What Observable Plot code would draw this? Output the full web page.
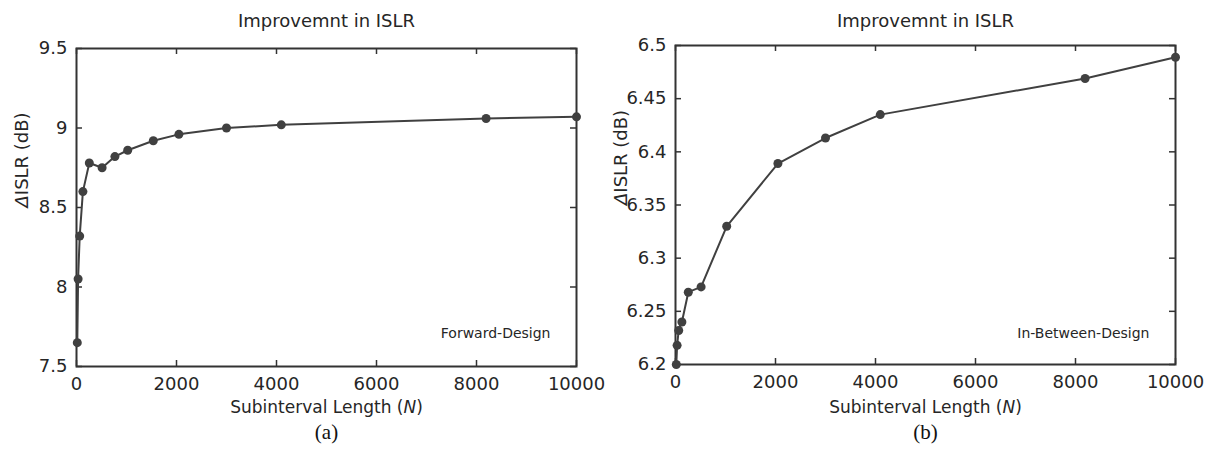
<!DOCTYPE html>
<html>
<head>
<meta charset="utf-8">
<script src="https://cdn.jsdelivr.net/npm/d3@7"></script>
<script src="https://cdn.jsdelivr.net/npm/@observablehq/plot@0.6"></script>
<style>
  html, body { margin: 0; padding: 0; background: #fff; }
  #wrap { position: relative; width: 1211px; height: 459px; overflow: hidden; background: #fff; }
  #wrap > div { position: absolute; top: 0; }
  #pa { z-index: 2; }
  #pb { z-index: 1; }
</style>
</head>
<body>
<div id="wrap"><div id="pa" style="left:0"></div><div id="pb" style="left:600px"></div></div>
<script>
// ---- data ----
const titleText = "Improvemnt in ISLR";
const xLabel = "Subinterval Length (N)";
const yLabel = "ΔISLR (dB)";
const xTicks = [0, 2000, 4000, 6000, 8000, 10000];

// (a) Forward-Design
const forwardN = [16, 32, 64, 128, 256, 512, 768, 1024, 1536, 2048, 3000, 4096, 8192, 10000];
const forwardISLR = [7.65, 8.05, 8.32, 8.60, 8.78, 8.75, 8.82, 8.86, 8.92, 8.96, 9.00, 9.02, 9.06, 9.07];
const forwardYTicks = [7.5, 8, 8.5, 9, 9.5];

// (b) In-Between-Design
const betweenN = [16, 32, 64, 128, 256, 512, 1024, 2048, 3000, 4096, 8192, 10000];
const betweenISLR = [6.200, 6.218, 6.232, 6.240, 6.268, 6.273, 6.330, 6.389, 6.413, 6.435, 6.469, 6.489];
const betweenYTicks = [6.2, 6.25, 6.3, 6.35, 6.4, 6.45, 6.5];

const ink = "#404040";
const font = "DejaVu Sans";

function panel({N, V, yDomain, yTicks, note, caption, width, mL, mR, mT, mB}) {
  const data = N.map((n, i) => ({n, v: V[i]}));
  const fmt = d => String(+d.toFixed(2));
  const bottom = 459 - mB;
  const fw = width - mL - mR, fh = 459 - mT - mB, tl = 6;
  const tk = {stroke: "#333", strokeWidth: 1.5};
  return Plot.plot({
    width, height: 459,
    marginLeft: mL, marginRight: mR, marginTop: mT, marginBottom: mB,
    style: {fontFamily: font, fontSize: "18px", color: "#262626", background: "transparent", overflow: "visible"},
    x: {domain: [0, 10000]},
    y: {domain: yDomain},
    marks: [
      Plot.axisX({ticks: xTicks, tickSize: 0, tickPadding: 11, tickFormat: d => String(d), label: null, fontSize: 18}),
      Plot.axisY({ticks: yTicks, tickSize: 0, tickPadding: 9, tickFormat: fmt, label: null, fontSize: 18}),
      // inward ticks on all four sides
      Plot.tickX(xTicks, {x: d => d, insetTop: fh - tl, ...tk}),
      Plot.tickX(xTicks, {x: d => d, insetBottom: fh - tl, ...tk}),
      Plot.tickY(yTicks, {y: d => d, insetRight: fw - tl, ...tk}),
      Plot.tickY(yTicks, {y: d => d, insetLeft: fw - tl, ...tk}),
      Plot.frame({stroke: "#333", strokeWidth: 2}),
      Plot.line(data, {x: "n", y: "v", stroke: ink, strokeWidth: 2}),
      Plot.dot(data, {x: "n", y: "v", r: 4.5, fill: ink}),
      Plot.text([titleText], {frameAnchor: "top", lineAnchor: "middle", dy: 21 - mT, fontSize: 18}),
      Plot.text([xLabel], {frameAnchor: "bottom", lineAnchor: "middle", dy: 407 - bottom, fontSize: 17}),
      Plot.text([yLabel], {frameAnchor: "left", dx: -54, rotate: -90, fontSize: 18}),
      Plot.text([caption], {frameAnchor: "bottom", lineAnchor: "middle", dy: 432 - bottom, fontSize: 21, fontFamily: "Liberation Serif", fill: "#111"}),
      Plot.text([note], {frameAnchor: "bottom-right", lineAnchor: "middle", dx: -26, dy: 333 - bottom, textAnchor: "end", fontSize: 14})
    ]
  });
}

function italicize(svg) {
  d3.select(svg).selectAll("text").each(function() {
    const t = this.textContent;
    if (t === xLabel) {
      this.textContent = "";
      const s = d3.select(this);
      s.append("tspan").text("Subinterval Length (");
      s.append("tspan").attr("font-style", "italic").text("N");
      s.append("tspan").text(")");
    } else if (t === yLabel) {
      this.textContent = "";
      const s = d3.select(this);
      s.append("tspan").attr("font-style", "italic").text("Δ");
      s.append("tspan").text("ISLR (dB)");
    }
  });
  return svg;
}

document.getElementById("pa").appendChild(italicize(panel({
  N: forwardN, V: forwardISLR, yDomain: [7.5, 9.5], yTicks: forwardYTicks,
  note: "Forward-Design", caption: "(a)",
  width: 600, mL: 76, mR: 24, mT: 48, mB: 93
})));
document.getElementById("pb").appendChild(italicize(panel({
  N: betweenN, V: betweenISLR, yDomain: [6.2, 6.5], yTicks: betweenYTicks,
  note: "In-Between-Design", caption: "(b)",
  width: 611, mL: 75, mR: 36, mT: 45, mB: 95
})));
</script>
</body>
</html>
